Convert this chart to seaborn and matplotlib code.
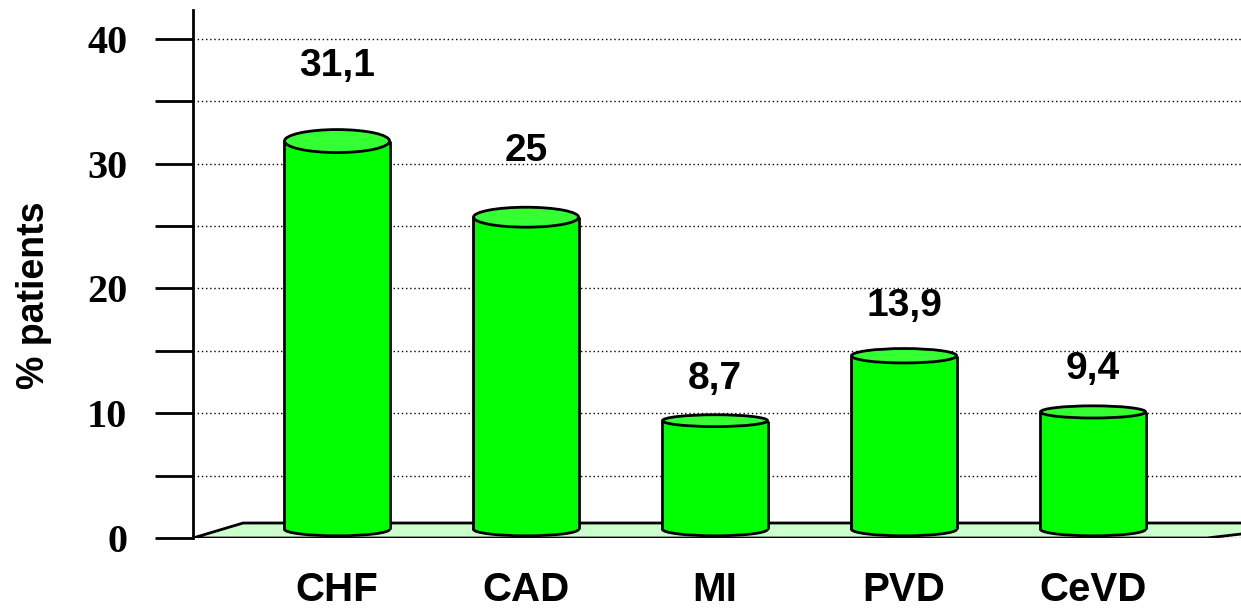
import matplotlib
matplotlib.use("Agg")
import matplotlib.pyplot as plt
from matplotlib.patches import Ellipse, Polygon
import seaborn as sns

# ----------------------------------------------------------
# Données
# ----------------------------------------------------------

categories = ["CHF", "CAD", "MI", "PVD", "CeVD"]
values = [31.1, 25, 8.7, 13.9, 9.4]
value_labels = ["31,1", "25", "8,7", "13,9", "9,4"]
y_ticks = [0, 5, 10, 15, 20, 25, 30, 35, 40]
y_tick_labels = ["0", "", "10", "", "20", "", "30", "", "40"]

# ----------------------------------------------------------
# Style
# ----------------------------------------------------------

sns.set_style("white")
plt.rcParams["font.family"] = ["Liberation Sans", "DejaVu Sans"]
plt.rcParams["text.color"] = "black"
plt.rcParams["axes.labelcolor"] = "black"
plt.rcParams["xtick.color"] = "black"
plt.rcParams["ytick.color"] = "black"

body_color = "#00ff00"
top_color = "#33ff33"
floor_color = "#ccffcc"
base = 0.7          # milieu du "sol" en perspective
depth = 1.2         # profondeur du sol
bar_w = 0.556

fig = plt.figure(figsize=(12.41, 6.10), dpi=100)
ax = fig.add_axes([193 / 1241, 1 - 538 / 610, 1 - 193 / 1241, (538 - 10) / 610])

sns.barplot(x=categories, y=values, color=body_color, saturation=1,
            width=bar_w, linewidth=0, zorder=3, ax=ax)

x_left, x_right = -0.762, 4.783
ax.set_xlim(x_left, x_right)
ax.set_ylim(0, 42.3)

# sol en perspective
floor = Polygon([(x_left, 0), (x_left + 0.265, depth), (x_right + 0.5, depth),
                 (x_right - 0.18, 0)], closed=True, facecolor=floor_color,
                edgecolor="black", linewidth=2, zorder=1, clip_on=True)
ax.add_patch(floor)

# cylindres
for patch, v, lab in zip(ax.containers[0], values, value_labels):
    patch.set_y(base)
    xc = patch.get_x() + patch.get_width() / 2
    top = base + v
    h_top = 0.6 + 0.04 * v
    ax.add_patch(Ellipse((xc, base), bar_w, 1.05, facecolor=body_color,
                         edgecolor="black", linewidth=2, zorder=2))
    ax.add_patch(Ellipse((xc, top), bar_w, h_top, facecolor=top_color,
                         edgecolor="black", linewidth=2, zorder=5))
    ax.vlines([xc - bar_w / 2, xc + bar_w / 2], base, top, color="black",
              linewidth=2, zorder=4)
    ax.text(xc, top + 2.3 + 0.12 * v, lab, ha="center", va="center",
            fontsize=28, fontweight="bold", color="black")

# axes
ax.set_yticks(y_ticks)
ax.set_yticklabels(y_tick_labels, fontfamily="Liberation Serif",
                   fontsize=29, fontweight="bold", color="black")
ax.tick_params(axis="y", length=27.4, width=2, direction="out", pad=20,
               color="black", left=True)
ax.tick_params(axis="x", length=0, pad=24)
for t in ax.get_xticklabels():
    t.set_fontsize(29)
    t.set_fontweight("bold")
    t.set_color("black")

ax.set_axisbelow(True)
ax.yaxis.grid(True, linestyle=(0, (1, 2)), color="black", linewidth=1)
ax.xaxis.grid(False)

for s in ["top", "right", "bottom"]:
    ax.spines[s].set_visible(False)
ax.spines["left"].set_color("black")
ax.spines["left"].set_linewidth(2)

ax.set_xlabel("")
ax.set_ylabel("% patients", fontsize=27, fontweight="bold", color="black")
ax.yaxis.set_label_coords(-0.1345, 0.46)

fig.savefig("out.png", dpi=100)
